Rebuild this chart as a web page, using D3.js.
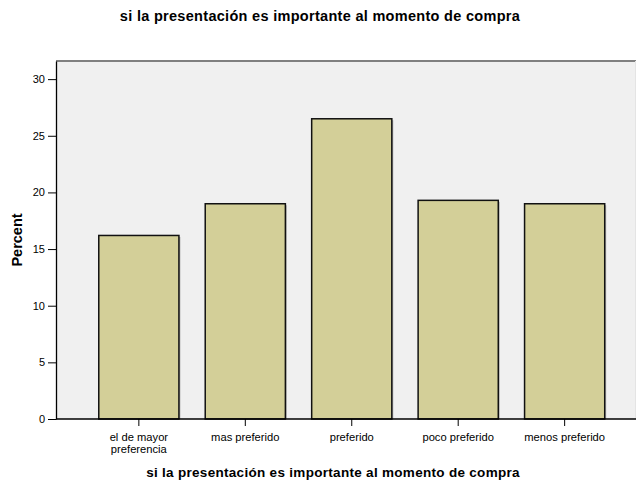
<!DOCTYPE html>
<html>
<head>
<meta charset="utf-8">
<script src="https://cdn.jsdelivr.net/npm/d3@7"></script>
<style>
  body { margin: 0; background: #fff; }
  svg { display: block; font-family: "Liberation Sans", Arial, sans-serif; }
</style>
</head>
<body>
<svg id="chart" width="637" height="486"></svg>
<script>
// data
const categories = ['el de mayor|preferencia', 'mas preferido', 'preferido', 'poco preferido', 'menos preferido'];
const percents = [16.2, 19.0, 26.5, 19.3, 19.0];
const yTicks = [0, 5, 10, 15, 20, 25, 30];
const title = 'si la presentación es importante al momento de compra';

const svg = d3.select('#chart');
const plot = { left: 56, right: 636, top: 61, bottom: 419 };

const x = d3.scaleBand()
    .domain(categories)
    .range([86, 617.5])
    .paddingInner(0.247)
    .paddingOuter(0.12);

const y = d3.scaleLinear()
    .domain([0, 31.6])
    .range([plot.bottom, plot.top]);

// background
svg.append('rect')
    .attr('x', plot.left).attr('y', plot.top)
    .attr('width', plot.right - plot.left)
    .attr('height', plot.bottom - plot.top)
    .attr('fill', '#f0f0f0');

// top border
svg.append('line')
    .attr('x1', plot.left).attr('x2', plot.right)
    .attr('y1', plot.top).attr('y2', plot.top)
    .attr('stroke', '#808080').attr('stroke-width', 2);
svg.append('line')
    .attr('x1', plot.right - 0.5).attr('x2', plot.right - 0.5)
    .attr('y1', plot.top).attr('y2', plot.bottom)
    .attr('stroke', '#e4e4e4').attr('stroke-width', 1);

// bars with faint shadow
const bars = svg.append('g');
bars.selectAll('rect.shadow')
    .data(percents)
    .join('rect')
    .attr('class', 'shadow')
    .attr('x', (d, i) => x(categories[i]) + 1.5)
    .attr('y', d => y(d) + 1.5)
    .attr('width', x.bandwidth())
    .attr('height', d => y(0) - y(d) - 1.5)
    .attr('fill', '#b8b8b8');
bars.selectAll('rect.bar')
    .data(percents)
    .join('rect')
    .attr('class', 'bar')
    .attr('x', (d, i) => x(categories[i]))
    .attr('y', d => y(d))
    .attr('width', x.bandwidth())
    .attr('height', d => y(0) - y(d))
    .attr('fill', '#d3cf98')
    .attr('stroke', '#111')
    .attr('stroke-width', 1.5);

// y axis
const yAxis = svg.append('g')
    .attr('transform', `translate(${plot.left},0)`)
    .call(d3.axisLeft(y).tickValues(yTicks).tickSize(8).tickPadding(3).tickSizeOuter(0));
yAxis.select('.domain').attr('stroke', '#000').attr('stroke-width', 1.3);
yAxis.selectAll('.tick line').attr('stroke', '#000');
yAxis.selectAll('.tick text')
    .attr('font-size', 11)
    .attr('font-family', '"Liberation Sans", Arial, sans-serif')
    .attr('fill', '#000');

// x axis
const xAxis = svg.append('g')
    .attr('transform', `translate(0,${plot.bottom})`)
    .call(d3.axisBottom(x).tickSize(7).tickSizeOuter(0).tickFormat(''));
xAxis.select('.domain').remove();
xAxis.selectAll('.tick line').attr('stroke', '#000');
svg.append('line')
    .attr('x1', plot.left).attr('x2', plot.right)
    .attr('y1', plot.bottom).attr('y2', plot.bottom)
    .attr('stroke', '#000').attr('stroke-width', 1.3);

const xl = svg.append('g');
categories.forEach(c => {
    const lines = c.split('|');
    const t = xl.append('text')
        .attr('x', x(c) + x.bandwidth() / 2)
        .attr('y', 441)
        .attr('text-anchor', 'middle')
        .attr('font-size', 11.2)
        .attr('fill', '#000');
    lines.forEach((l, k) => {
        t.append('tspan')
            .attr('x', x(c) + x.bandwidth() / 2)
            .attr('dy', k === 0 ? 0 : 12)
            .text(l);
    });
});

// titles
svg.append('text')
    .attr('x', 320).attr('y', 21)
    .attr('text-anchor', 'middle')
    .attr('font-size', 14.5).attr('font-weight', 'bold')
    .attr('letter-spacing', 0.3)
    .text(title);

svg.append('text')
    .attr('x', 333).attr('y', 477)
    .attr('text-anchor', 'middle')
    .attr('font-size', 13.5).attr('font-weight', 'bold')
    .attr('letter-spacing', 0.3)
    .text(title);

svg.append('text')
    .attr('transform', `translate(22,${(plot.top + plot.bottom) / 2}) rotate(-90)`)
    .attr('text-anchor', 'middle')
    .attr('font-size', 14.5).attr('font-weight', 'bold')
    .text('Percent');
</script>
</body>
</html>
